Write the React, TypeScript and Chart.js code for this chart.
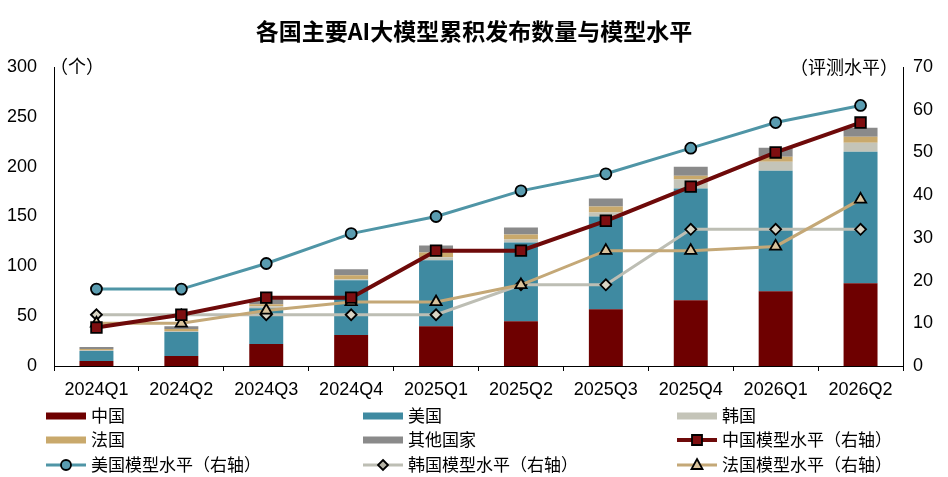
import { useEffect, useRef } from "react";
import { Chart, registerables } from "chart.js";

Chart.register(...registerables);

// categories
const quarters = [
  "2024Q1", "2024Q2", "2024Q3", "2024Q4",
  "2025Q1", "2025Q2", "2025Q3", "2025Q4",
  "2026Q1", "2026Q2",
];

// cumulative model counts (left axis, stacked)
const chinaCount = [5, 10, 22, 31, 40, 45, 57, 66, 75, 83];
const usCount = [10, 24, 36, 55, 66, 79, 93, 112, 121, 132];
const koreaCount = [1, 1, 2, 1, 3, 3, 4, 9, 9, 9];
const franceCount = [1, 2, 2, 4, 5, 5, 6, 4, 5, 6];
const otherCount = [2, 3, 5, 6, 7, 7, 8, 9, 9, 9];

// model level (right axis)
const chinaLevel = [9, 12, 16, 16, 27, 27, 34, 42, 50, 57];
const usLevel = [18, 18, 24, 31, 35, 41, 45, 51, 57, 61];
const koreaLevel = [12, 12, 12, 12, 12, 19, 19, 32, 32, 32];
const franceLevel = [10, 10, 13, 15, 15, 19, 27, 27, 28, 39];

const title = "各国主要AI大模型累积发布数量与模型水平";
const leftUnit = "（个）";
const rightUnit = "（评测水平）";

const NUM_FONT = "'Liberation Sans', Arial, sans-serif";
const CJK_FONT = "'Noto Sans CJK SC', sans-serif";

const C = {
  china: "#6E0000",
  us: "#3F8AA1",
  korea: "#C4C4B8",
  france: "#C9A96C",
  other: "#8A8A8A",
  chinaLine: "#6E0A0A",
  chinaPoint: "#7E0E10",
  usLine: "#4F95A6",
  usPoint: "#5A9CB0",
  koreaLine: "#BDBEB4",
  koreaPoint: "#D8D4C4",
  franceLine: "#C4A877",
  francePoint: "#D9C39C",
};

type LegendItem =
  | { kind: "bar"; label: string; color: string }
  | { kind: "line"; label: string; color: string; fill: string; marker: string; width: number };

const legendItems: LegendItem[] = [
  { kind: "bar", label: "中国", color: C.china },
  { kind: "bar", label: "美国", color: C.us },
  { kind: "bar", label: "韩国", color: C.korea },
  { kind: "bar", label: "法国", color: C.france },
  { kind: "bar", label: "其他国家", color: C.other },
  { kind: "line", label: "中国模型水平（右轴）", color: C.chinaLine, fill: C.chinaPoint, marker: "rect", width: 4 },
  { kind: "line", label: "美国模型水平（右轴）", color: C.usLine, fill: C.usPoint, marker: "circle", width: 3 },
  { kind: "line", label: "韩国模型水平（右轴）", color: C.koreaLine, fill: "#B5B3A5", marker: "diamond", width: 3 },
  { kind: "line", label: "法国模型水平（右轴）", color: C.franceLine, fill: C.francePoint, marker: "triangle", width: 3 },
];

const legendCols = [46, 363, 677];
const legendRows = [416, 440, 465];

function drawMarker(ctx: CanvasRenderingContext2D, type: string, x: number, y: number, fill: string) {
  ctx.beginPath();
  if (type === "rect") {
    ctx.rect(x - 5, y - 5, 10, 10);
  } else if (type === "circle") {
    ctx.arc(x, y, 5, 0, Math.PI * 2);
  } else if (type === "diamond") {
    ctx.moveTo(x, y - 5);
    ctx.lineTo(x + 5, y);
    ctx.lineTo(x, y + 5);
    ctx.lineTo(x - 5, y);
    ctx.closePath();
  } else {
    ctx.moveTo(x, y - 6);
    ctx.lineTo(x + 5.5, y + 4);
    ctx.lineTo(x - 5.5, y + 4);
    ctx.closePath();
  }
  ctx.fillStyle = fill;
  ctx.fill();
  ctx.lineWidth = 1.8;
  ctx.strokeStyle = "#000";
  ctx.stroke();
}

const decorPlugin = {
  id: "decor",
  afterDraw(chart: Chart) {
    const ctx = chart.ctx;
    ctx.save();
    ctx.fillStyle = "#000";
    ctx.textBaseline = "middle";

    ctx.font = `bold 23px ${CJK_FONT}`;
    ctx.textAlign = "center";
    ctx.fillText(title, 474, 31);

    ctx.font = `18px ${CJK_FONT}`;
    ctx.textAlign = "left";
    ctx.fillText(leftUnit, 50, 66);
    ctx.textAlign = "right";
    ctx.fillText(rightUnit, 898, 67);

    ctx.font = `17px ${CJK_FONT}`;
    ctx.textAlign = "left";
    legendItems.forEach((item, i) => {
      const x = legendCols[i % 3];
      const y = legendRows[Math.floor(i / 3)];
      if (item.kind === "bar") {
        ctx.fillStyle = item.color;
        ctx.fillRect(x, y - 3.5, 40, 7);
      } else {
        ctx.strokeStyle = item.color;
        ctx.lineWidth = item.width;
        ctx.beginPath();
        ctx.moveTo(x, y);
        ctx.lineTo(x + 40, y);
        ctx.stroke();
        drawMarker(ctx, item.marker, x + 20, y, item.fill);
      }
      ctx.fillStyle = "#000";
      ctx.fillText(item.label, x + 45, y);
    });
    ctx.restore();
  },
};

export default function App() {
  const chartRef = useRef<HTMLCanvasElement>(null);

  useEffect(() => {
    if (!chartRef.current) return;
    const ctx = chartRef.current.getContext("2d");
    if (!ctx) return;

    const bar = (label: string, data: number[], color: string) => ({
      type: "bar" as const,
      label,
      data,
      backgroundColor: color,
      yAxisID: "y",
      stack: "count",
      order: 10,
      barPercentage: 0.4,
      categoryPercentage: 1,
    });

    const line = (
      label: string,
      data: number[],
      color: string,
      fill: string,
      style: string,
      radius: number,
      width: number,
      order: number
    ) => ({
      type: "line" as const,
      label,
      data,
      borderColor: color,
      borderWidth: width,
      pointStyle: style,
      pointRadius: radius,
      pointBackgroundColor: fill,
      pointBorderColor: "#000",
      pointBorderWidth: 1.8,
      tension: 0,
      yAxisID: "y1",
      order,
    });

    const chart = new Chart(ctx, {
      type: "bar",
      data: {
        labels: quarters,
        datasets: [
          bar("中国", chinaCount, C.china),
          bar("美国", usCount, C.us),
          bar("韩国", koreaCount, C.korea),
          bar("法国", franceCount, C.france),
          bar("其他国家", otherCount, C.other),
          line("中国模型水平（右轴）", chinaLevel, C.chinaLine, C.chinaPoint, "rect", 7.5, 4, 2),
          line("美国模型水平（右轴）", usLevel, C.usLine, C.usPoint, "circle", 5.5, 3, 1),
          line("韩国模型水平（右轴）", koreaLevel, C.koreaLine, C.koreaPoint, "rectRot", 5.5, 3, 4),
          line("法国模型水平（右轴）", franceLevel, C.franceLine, C.francePoint, "triangle", 6.5, 3, 3),
        ] as any,
      },
      options: {
        responsive: false,
        animation: false,
        layout: { padding: { top: 67, bottom: 71, left: 0, right: 0 } },
        plugins: {
          legend: { display: false },
          title: { display: false },
          tooltip: { enabled: false },
        },
        scales: {
          x: {
            stacked: true,
            afterFit: (s: any) => {
              s.height = 40;
            },
            grid: {
              display: true,
              drawOnChartArea: false,
              drawTicks: true,
              tickLength: 5,
              color: "#000",
              offset: true,
            },
            border: { display: true, color: "#000", width: 1 },
            ticks: {
              color: "#000",
              font: { size: 18, family: NUM_FONT },
              padding: 8,
              maxRotation: 0,
              autoSkip: false,
            },
          },
          y: {
            stacked: true,
            position: "left",
            min: 0,
            max: 300,
            afterFit: (s: any) => {
              s.width = 54;
            },
            grid: { display: false, drawTicks: false },
            border: { display: true, color: "#000", width: 1 },
            ticks: {
              stepSize: 50,
              color: "#000",
              font: { size: 18, family: NUM_FONT },
              padding: 17,
            },
          },
          y1: {
            position: "right",
            min: 0,
            max: 70,
            afterFit: (s: any) => {
              s.width = 45;
            },
            grid: { display: false, drawTicks: false },
            border: { display: true, color: "#000", width: 1 },
            ticks: {
              stepSize: 10,
              color: "#000",
              font: { size: 18, family: NUM_FONT },
              padding: 10,
            },
          },
        },
      },
      plugins: [decorPlugin],
    });

    return () => chart.destroy();
  }, []);

  return (
    <div style={{ position: "fixed", left: 0, top: 0, width: 948, height: 477, background: "#fff" }}>
      <canvas ref={chartRef} width={948} height={477} style={{ width: 948, height: 477 }} />
    </div>
  );
}
